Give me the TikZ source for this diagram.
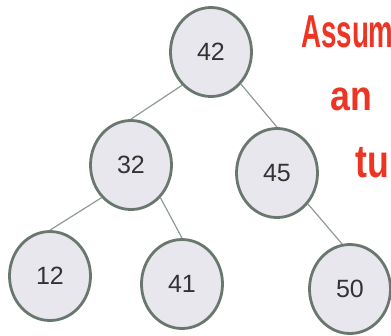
\documentclass[tikz,border=0pt]{standalone}
\usepackage{fontspec}
\setmainfont{Liberation Sans}
\usetikzlibrary{shapes.geometric}

\definecolor{keyfill}{HTML}{E8E7EE}
\definecolor{keyline}{HTML}{6A776F}
\definecolor{linkline}{HTML}{8D9B93}
\definecolor{inkred}{HTML}{EE3524}

\begin{document}
\begin{tikzpicture}[x=1pt, y=-1pt,
  key/.style={ellipse, draw=keyline, line width=2.8pt, fill=keyfill,
              minimum width=81pt, minimum height=89pt, inner sep=0pt,
              text=black!80, font=\fontsize{25}{29}\selectfont},
  link/.style={draw=linkline, line width=1.2pt},
  ink/.style={text=inkred, anchor=base west, inner sep=0pt,
              font=\fontsize{42}{46}\selectfont\bfseries}
]
\clip (0,0) rectangle (391,335);

% the tree
\node[key] (k42) at (211,52)  {42};
\node[key] (k32) at (131,165) {32};
\node[key] (k45) at (277,173) {45};
\node[key] (k12) at (50,276)  {12};
\node[key] (k41) at (182,284) {41};
\node[key] (k50) at (350,289) {50};

\draw[link] (k42.229) -- (k32.north);
\draw[link] (k42.313) -- (k45.north);
\draw[link] (k32.228) -- (k12.north);
\draw[link] (k32.312) -- (k41.north);
\draw[link] (k45.315) -- (k50.100);

% handwritten note, runs off the edge
\node[ink] (n1) at (301,47)  {\scalebox{0.66}[1.1]{Assum}};
\node[ink] (n2) at (330,110) {\scalebox{0.85}[1]{an}};
\node[ink] (n3) at (355,177) {\scalebox{0.85}[1.1]{tu}};
\end{tikzpicture}
\end{document}
